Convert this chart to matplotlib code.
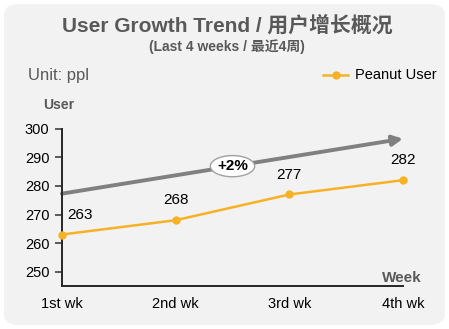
import matplotlib
matplotlib.use("Agg")
import matplotlib.pyplot as plt
from matplotlib.patches import FancyBboxPatch, Ellipse

plt.rcParams['font.family'] = ['Liberation Sans', 'Noto Sans CJK SC', 'DejaVu Sans']

weeks = ["1st wk", "2nd wk", "3rd wk", "4th wk"]
users = [263, 268, 277, 282]
trend_start = 277.3
trend_end = 296.5
growth_label = "+2%"
yticks = [250, 260, 270, 280, 290, 300]

orange = '#F7B125'
grey = '#808080'
title_grey = '#595959'

fig = plt.figure(figsize=(4.49, 3.29), dpi=100)
fig.patch.set_facecolor('white')

# rounded light panel behind everything
panel = FancyBboxPatch((4 / 449, 4 / 329), 441 / 449, 321 / 329,
                       boxstyle="round,pad=0,rounding_size=0.035",
                       transform=fig.transFigure, facecolor='#f2f2f2',
                       edgecolor='none', zorder=-5)
fig.patches.append(panel)

ax = fig.add_axes([62 / 449, 1 - 286 / 329, 341 / 449, (286 - 128.7) / 329])
ax.set_facecolor('none')
ax.set_zorder(2)

x = list(range(len(weeks)))
ax.plot(x, users, color=orange, lw=1.8, marker='o', ms=5, zorder=3, clip_on=False)
for xi, v in zip(x, users):
    dx = 0.16 if xi == 0 else 0
    ax.text(xi + dx, v + 4.5, str(v), ha='center', va='bottom', fontsize=11, color='black')

# trend arrow
ax.annotate("", xy=(x[-1], trend_end), xytext=(x[0], trend_start),
            arrowprops=dict(arrowstyle='-|>', color=grey, lw=2.8,
                            mutation_scale=15, shrinkA=0, shrinkB=0),
            annotation_clip=False, zorder=2)
mx = 1.5
my = trend_start + (trend_end - trend_start) * mx / 3
ax.add_patch(Ellipse((mx, my), 0.39, 7.4, facecolor='white', edgecolor='#a0a0a0',
                     lw=1, zorder=4))
ax.text(mx, my, growth_label, ha='center', va='center', fontsize=11,
        fontweight='bold', color='black', zorder=5)

ax.set_xlim(0, 3)
ax.set_ylim(245, 300)
ax.set_yticks(yticks)
ax.set_xticks(x)
ax.set_xticklabels(weeks, fontsize=10.5)
ax.tick_params(axis='y', labelsize=10.5, length=5, width=1.2, color='#404040', pad=4)
ax.tick_params(axis='x', length=0, pad=8)
for s in ['top', 'right']:
    ax.spines[s].set_visible(False)
for s in ['left', 'bottom']:
    ax.spines[s].set_color('#262626')
    ax.spines[s].set_linewidth(1.4)

fig.text(227 / 449, 1 - 25 / 329, "User Growth Trend / 用户增长概况", ha='center', va='center',
         fontsize=15, fontweight='bold', color=title_grey)
fig.text(227 / 449, 1 - 47 / 329, "(Last 4 weeks / 最近4周)", ha='center', va='center',
         fontsize=10, fontweight='bold', color=title_grey)
fig.text(28 / 449, 1 - 75 / 329, "Unit: ppl", ha='left', va='center',
         fontsize=12, color=title_grey)
fig.text(43 / 449, 1 - 105 / 329, "User", ha='left', va='center',
         fontsize=10, fontweight='bold', color=title_grey)
fig.text(422 / 449, 1 - 278 / 329, "Week", ha='right', va='center',
         fontsize=11, fontweight='bold', color=title_grey)

# legend drawn by hand
fig.lines.append(plt.Line2D([323 / 449, 348 / 449], [1 - 75 / 329] * 2, color=orange,
                            lw=1.8, transform=fig.transFigure))
fig.lines.append(plt.Line2D([335.5 / 449], [1 - 75 / 329], color=orange, marker='o',
                            ms=5, transform=fig.transFigure))
fig.text(355 / 449, 1 - 75 / 329, "Peanut User", ha='left', va='center',
         fontsize=10.5, color='black')

fig.savefig("out.png", dpi=100)
